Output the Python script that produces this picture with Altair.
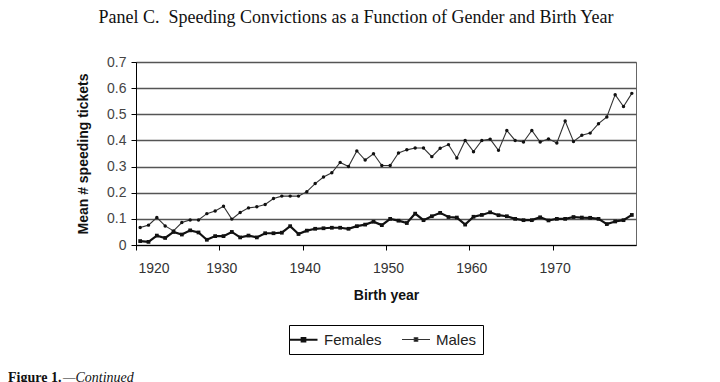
import altair as alt
import pandas as pd

years = list(range(1920, 1980))
females = [0.015, 0.012, 0.036, 0.027, 0.050, 0.040, 0.056, 0.048, 0.020, 0.034,
           0.034, 0.050, 0.029, 0.036, 0.029, 0.045, 0.045, 0.047, 0.072, 0.042,
           0.055, 0.062, 0.064, 0.066, 0.066, 0.062, 0.072, 0.078, 0.089, 0.076,
           0.100, 0.093, 0.084, 0.120, 0.095, 0.110, 0.123, 0.107, 0.105, 0.078,
           0.108, 0.115, 0.125, 0.114, 0.110, 0.100, 0.095, 0.095, 0.106, 0.094,
           0.100, 0.100, 0.107, 0.105, 0.104, 0.100, 0.080, 0.090, 0.095, 0.115]
males = [0.067, 0.076, 0.105, 0.073, 0.054, 0.086, 0.096, 0.096, 0.120, 0.130,
         0.148, 0.099, 0.124, 0.142, 0.146, 0.155, 0.178, 0.187, 0.187, 0.187,
         0.204, 0.235, 0.260, 0.276, 0.316, 0.300, 0.360, 0.325, 0.349, 0.304,
         0.304, 0.352, 0.364, 0.371, 0.371, 0.338, 0.370, 0.384, 0.333, 0.400,
         0.357, 0.400, 0.405, 0.362, 0.438, 0.400, 0.394, 0.438, 0.394, 0.406,
         0.390, 0.474, 0.396, 0.420, 0.428, 0.464, 0.490, 0.575, 0.530, 0.580]
series_names = ["Females", "Males"]
x_ticks = [1920, 1930, 1940, 1950, 1960, 1970]
y_ticks = [0, 0.1, 0.2, 0.3, 0.4, 0.5, 0.6, 0.7]
title_text = "Panel C.\u00a0 Speeding Convictions as a Function of Gender and Birth Year"
caption_bold = "Figure 1."
caption_italic = "—Continued"

rows = []
for i, yr in enumerate(years):
    rows.append({"year": yr, "series": "Females", "value": females[i]})
    rows.append({"year": yr, "series": "Males", "value": males[i]})
df = pd.DataFrame(rows)
one = pd.DataFrame({"k": [0]})

SANS = "Liberation Sans"
SERIF = "Liberation Serif"

base = alt.Chart(df).transform_calculate(xpos="datum.year + 0.5")

x_enc = alt.X(
    "xpos:Q",
    scale=alt.Scale(domain=[1920, 1980], nice=False, zero=False),
    axis=alt.Axis(values=x_ticks, tickCount=20, format="d", title="Birth year", grid=False,
                  domainColor="#000", tickColor="#000", tickSize=5, labelOffset=2,
                  labelFont=SANS, labelFontSize=14, labelColor="#333",
                  labelPadding=11, titleFont=SANS, titleFontSize=14,
                  titleFontWeight="bold", titleColor="#111", titlePadding=13),
)
y_enc = alt.Y(
    "value:Q",
    scale=alt.Scale(domain=[0, 0.7], nice=False),
    axis=alt.Axis(values=y_ticks, tickCount=20, format="~g", title="Mean # speeding tickets",
                  grid=True, gridColor="#555", gridWidth=1.4,
                  domainColor="#000", tickColor="#000", tickSize=5,
                  labelFont=SANS, labelFontSize=14, labelColor="#444",
                  labelPadding=5, titleFont=SANS, titleFontSize=14,
                  titleFontWeight="bold", titleColor="#111", titlePadding=16),
)

legend = alt.Legend(
    orient="none", legendX=153, legendY=263, direction="horizontal", title=None,
    strokeColor="#000", padding=6, fillColor="white",
    labelFont=SANS, labelFontSize=15, labelColor="#222", labelOffset=12,
    symbolType="M-2,0H2M-0.25,-0.25H0.25V0.25H-0.25Z", symbolSize=196,
    symbolFillColor="#111", symbolStrokeColor="#111", symbolStrokeWidth=1.6,
    columnPadding=17,
)

lines = base.mark_line().encode(
    x=x_enc,
    y=y_enc,
    color=alt.Color("series:N", scale=alt.Scale(domain=series_names, range=["#111", "#333"]),
                    legend=legend),
    strokeWidth=alt.StrokeWidth("series:N",
                                scale=alt.Scale(domain=series_names, range=[2.2, 1.1]),
                                legend=None),
)

pts_f = base.transform_filter(alt.datum.series == "Females").mark_point(
    filled=True, opacity=1, color="#111", shape="square", size=14).encode(
    x="xpos:Q", y="value:Q")
pts_m = base.transform_filter(alt.datum.series == "Males").mark_point(
    filled=True, opacity=1, color="#111", shape="circle", size=12).encode(
    x="xpos:Q", y="value:Q")

cap1 = alt.Chart(one).mark_text(font=SERIF, fontSize=14, fontWeight="bold", align="left",
                                baseline="top", color="#111").encode(
    x=alt.value(-128), y=alt.value(309), text=alt.value(caption_bold))
cap2 = alt.Chart(one).mark_text(font=SERIF, fontSize=14, fontStyle="italic", align="left",
                                baseline="top", color="#111").encode(
    x=alt.value(-73), y=alt.value(309), text=alt.value(caption_italic))

chart = alt.layer(lines, pts_f, pts_m, cap1, cap2).properties(
    width=500,
    height=183,
    autosize=alt.AutoSizeParams(type="none"),
    padding={"left": 128, "top": 54, "right": 76, "bottom": 140},
    title=alt.TitleParams(title_text,
                          font=SERIF, fontSize=18, fontWeight="normal", color="#111",
                          anchor="middle", offset=28, dx=-30),
).configure_view(stroke="#666", strokeWidth=1)

chart.save("out.html", embed_options={"renderer": "svg", "actions": False})
